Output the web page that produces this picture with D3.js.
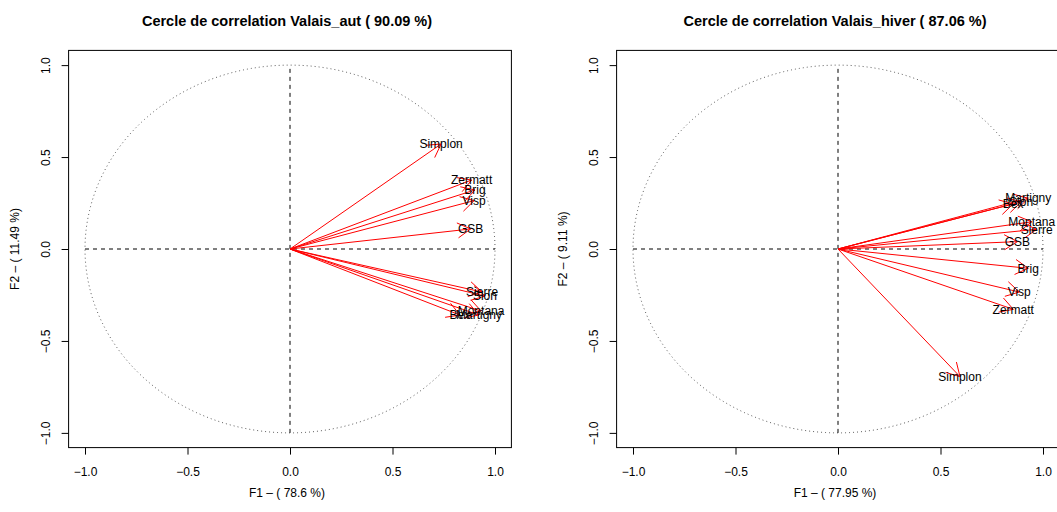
<!DOCTYPE html>
<html><head><meta charset="utf-8">
<script src="https://cdn.jsdelivr.net/npm/d3@7"></script>
<style>body{margin:0;background:#fff}svg{display:block}text{font-family:"Liberation Sans",Arial,sans-serif}</style>
</head><body><svg id="c" width="1057" height="512"></svg>
<script>
const variables = ["Simplon","Zermatt","Brig","Visp","GSB","Sierre","Sion","Montana","Martigny","Bex"];
const autF1 = [0.737,0.886,0.902,0.898,0.881,0.937,0.951,0.932,0.922,0.829];
const autF2 = [0.571,0.375,0.321,0.263,0.109,-0.234,-0.256,-0.337,-0.359,-0.359];
const hiverF1 = [0.595,0.855,0.928,0.884,0.875,0.969,0.893,0.945,0.928,0.854];
const hiverF2 = [-0.694,-0.328,-0.105,-0.234,0.040,0.107,0.256,0.148,0.276,0.245];
const tickValues = [-1.0,-0.5,0.0,0.5,1.0];
const panels = [
  {title:"Cercle de correlation Valais_aut ( 90.09 %)", xlab:"F1 \u2013 ( 78.6 %)", ylab:"F2 \u2013 ( 11.49 %)", f1:autF1, f2:autF2},
  {title:"Cercle de correlation Valais_hiver ( 87.06 %)", xlab:"F1 \u2013 ( 77.95 %)", ylab:"F2 \u2013 ( 9.11 %)", f1:hiverF1, f2:hiverF2}
];
const svg = d3.select("#c");
const offsets = [0, 548];
const fmt = d => d.toFixed(1).replace("-", "\u2212");
panels.forEach((p, i) => {
  const g = svg.append("g").attr("transform", `translate(${offsets[i]},0)`);
  const x = d3.scaleLinear().domain([-1.08,1.08]).range([68.6, 511.4]);
  const y = d3.scaleLinear().domain([-1.08,1.08]).range([447.6, 50.4]);
  g.append("rect").attr("x", x(-1.08)).attr("y", y(1.08)).attr("width", x(1.08)-x(-1.08)).attr("height", y(-1.08)-y(1.08))
    .attr("fill","none").attr("stroke","#000").attr("stroke-width",1);
  const xa = g.append("g").attr("transform", `translate(0,${y(-1.08)})`)
    .call(d3.axisBottom(x).tickValues(tickValues).tickSize(7).tickFormat(fmt));
  xa.select(".domain").remove();
  xa.selectAll("text").attr("dy", null).attr("y", 28).attr("font-size", 12).attr("fill","#000").attr("font-family","Liberation Sans, Arial, sans-serif");
  const ya = g.append("g").attr("transform", `translate(${x(-1.08)},0)`)
    .call(d3.axisLeft(y).tickValues(tickValues).tickSize(7).tickFormat(fmt));
  ya.select(".domain").remove();
  ya.selectAll("text").attr("x", null).attr("dy", null).attr("text-anchor","middle")
    .attr("transform", "translate(-19,0) rotate(-90)").attr("font-size", 12).attr("fill","#000").attr("font-family","Liberation Sans, Arial, sans-serif");
  const circ = d3.line().x(d => x(Math.cos(d))).y(d => y(Math.sin(d)));
  g.append("path").datum(d3.range(0, 2*Math.PI+0.01, 0.01)).attr("d", circ)
    .attr("fill","none").attr("stroke","#333").attr("stroke-width",0.8).attr("stroke-dasharray","1,3");
  g.append("line").attr("x1", x(-1)).attr("x2", x(1)).attr("y1", y(0)).attr("y2", y(0))
    .attr("stroke","#000").attr("stroke-dasharray","4,4");
  g.append("line").attr("x1", x(0)).attr("x2", x(0)).attr("y1", y(-1)).attr("y2", y(1))
    .attr("stroke","#000").attr("stroke-dasharray","4,4");
  const L = 15, ang = Math.PI/6;
  variables.forEach((v, k) => {
    const x0 = x(0), y0 = y(0), x1 = x(p.f1[k]), y1 = y(p.f2[k]);
    const th = Math.atan2(y1 - y0, x1 - x0);
    g.append("line").attr("x1",x0).attr("y1",y0).attr("x2",x1).attr("y2",y1).attr("stroke","red").attr("stroke-width",1);
    g.append("path").attr("d", `M${x1 - L*Math.cos(th-ang)},${y1 - L*Math.sin(th-ang)}L${x1},${y1}L${x1 - L*Math.cos(th+ang)},${y1 - L*Math.sin(th+ang)}`)
      .attr("fill","none").attr("stroke","red").attr("stroke-width",1);
  });
  variables.forEach((v, k) => {
    g.append("text").attr("x", x(p.f1[k])).attr("y", y(p.f2[k])).attr("dy","0.35em").attr("text-anchor","middle")
      .attr("font-size", 12).attr("fill","#000").text(v);
  });
  g.append("text").attr("x", x(0) - 3).attr("y", 26).attr("text-anchor","middle").attr("font-size", 14.5).attr("font-weight","bold").text(p.title);
  g.append("text").attr("x", x(0) - 3).attr("y", 497).attr("text-anchor","middle").attr("font-size", 12).text(p.xlab);
  g.append("text").attr("transform", `translate(19,${y(0)}) rotate(-90)`).attr("text-anchor","middle").attr("font-size", 12).text(p.ylab);
});
</script></body></html>
